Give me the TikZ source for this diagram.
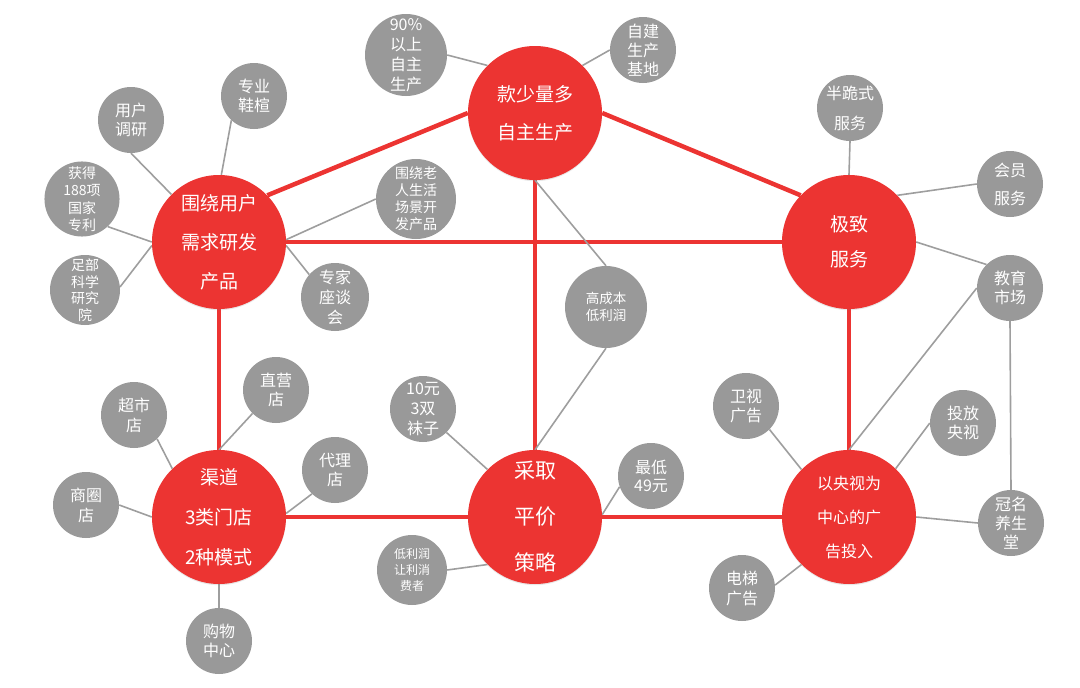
\documentclass[tikz,border=0pt]{standalone}
\usepackage{fontspec}
\setmainfont{Noto Sans CJK SC}
\usetikzlibrary{backgrounds,shadows}
\definecolor{myred}{RGB}{236,52,50}
\definecolor{mygray}{RGB}{153,153,153}
\definecolor{linegray}{RGB}{158,158,158}
\newcommand{\fs}[2]{\fontsize{#1}{#2}\selectfont}
\begin{document}
\begin{tikzpicture}[x=1pt,y=-1pt,
  big/.style={circle, fill=myred, minimum size=134pt, inner sep=0pt, text=white, align=center, font=\fs{19}{38},
    drop shadow={opacity=0.18, shadow xshift=0pt, shadow yshift=-1.2pt}},
  small/.style={circle, fill=mygray, minimum size=66pt, inner sep=0pt, text=white, align=center, font=\fs{16}{19}},
  redline/.style={line width=4.5pt, myred},
  grayline/.style={line width=1.6pt, linegray}]
\useasboundingbox (0,0) rectangle (1080,688);
% main nodes
\node[big] (A) at (535,113) {款少量多\\自主生产};
\node[big, font=\fs{19}{39}] (B) at (219,242) {围绕用户\\需求研发\\产品};
\node[big, font=\fs{19}{35}] (C) at (849,242) {极致\\服务};
\node[big, font=\fs{19}{40}] (D) at (219,517) {渠道\\3类门店\\2种模式};
\node[big, font=\fs{21}{46}] (E) at (535,517) {采取\\平价\\策略};
\node[big, font=\fs{16}{34}] (F) at (849,517) {以央视为\\中心的广\\告投入};
% satellite nodes
\node[small, minimum size=82pt, font=\fs{16}{20}] (n90) at (406,55) {90\%\\以上\\自主\\生产};
\node[small] (zjsc) at (643,50) {自建\\生产\\基地};
\node[small] (zyxx) at (254,96) {专业\\鞋楦};
\node[small] (yhdy) at (131,120) {用户\\调研};
\node[small, minimum size=70pt, font=\fs{14}{17.5}] (hd188) at (82,199) {获得\\188项\\国家\\专利};
\node[small, minimum size=70pt, font=\fs{14}{16.5}] (zbkx) at (85,290) {足部\\科学\\研究\\院};
\node[small, minimum size=80pt, font=\fs{14}{17}] (lrsh) at (416,199) {围绕老\\人生活\\场景开\\发产品};
\node[small, minimum size=68pt, font=\fs{16}{20}] (zjzt) at (335,297) {专家\\座谈\\会};
\node[small, minimum size=82pt, font=\fs{13.5}{17}] (gcb) at (606,307) {高成本\\低利润};
\node[small, font=\fs{16}{30}] (bgs) at (850,108) {半跪式\\服务};
\node[small, font=\fs{16}{28}] (hyfw) at (1010,184) {会员\\服务};
\node[small] (jysc) at (1010,288) {教育\\市场};
\node[small, font=\fs{16}{20}] (cs) at (134,415) {超市\\店};
\node[small] (zy) at (276,390) {直营\\店};
\node[small, font=\fs{16}{20}] (sq) at (86,505) {商圈\\店};
\node[small] (dl) at (335,470) {代理\\店};
\node[small] (gw) at (219,641) {购物\\中心};
\node[small, font=\fs{16}{20}] (sy) at (423,409) {10元\\3双\\袜子};
\node[small, minimum size=70pt, font=\fs{12}{16}] (dlr) at (412,570) {低利润\\让利消\\费者};
\node[small, font=\fs{16}{18}] (zd) at (651,476) {最低\\49元};
\node[small] (wsgg) at (746,406) {卫视\\广告};
\node[small] (tfys) at (963,423) {投放\\央视};
\node[small] (gmys) at (1011,523) {冠名\\养生\\堂};
\node[small, font=\fs{16}{20}] (dtgg) at (742,588) {电梯\\广告};
\begin{scope}[on background layer]
% red connectors
\draw[redline] (A.180) -- (B.44);
\draw[redline] (A.0) -- (C.136);
\draw[redline] (B.east) -- (C.west);
\draw[redline] (B.south) -- (D.north);
\draw[redline] (A.south) -- (E.north);
\draw[redline] (C.south) -- (F.north);
\draw[redline] (D.east) -- (E.west);
\draw[redline] (E.east) -- (F.west);
% gray connectors
\draw[grayline] (n90.east) -- (A.135);
\draw[grayline] (zjsc.west) -- (A.45);
\draw[grayline] (zyxx.227) -- (B.88);
\draw[grayline] (yhdy.south) -- (B.135);
\draw[grayline] (hd188.313) -- (B.180);
\draw[grayline] (zbkx.5) -- (B.183);
\draw[grayline] (lrsh.west) -- (B.2);
\draw[grayline] (zjzt.139) -- (B.357);
\draw[grayline] (A.south) -- (gcb.north);
\draw[grayline] (gcb.south) -- (E.north);
\draw[grayline] (bgs.south) -- (C.north);
\draw[grayline] (hyfw.west) -- (C.44);
\draw[grayline] (jysc.135) -- (C.east);
\draw[grayline] (jysc.west) -- (F.north);
\draw[grayline] (jysc.south) -- (gmys.north);
\draw[grayline] (wsgg.315) -- (F.135);
\draw[grayline] (tfys.west) -- (F.46);
\draw[grayline] (F.east) -- (gmys.west);
\draw[grayline] (dtgg.5) -- (F.225);
\draw[grayline] (cs.314) -- (D.134);
\draw[grayline] (zy.225) -- (D.north);
\draw[grayline] (sq.east) -- (D.west);
\draw[grayline] (dl.226) -- (D.3);
\draw[grayline] (D.south) -- (gw.north);
\draw[grayline] (sy.315) -- (E.135);
\draw[grayline] (zd.199) -- (E.2);
\draw[grayline] (dlr.east) -- (E.225);
\end{scope}
\end{tikzpicture}
\end{document}
